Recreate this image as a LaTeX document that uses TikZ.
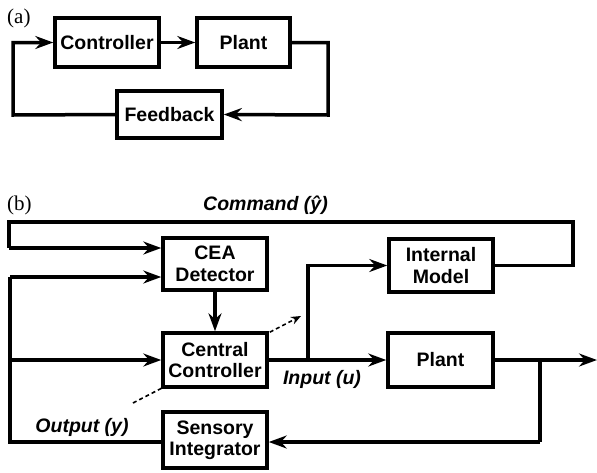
\documentclass[tikz,border=0pt]{standalone}
\usepackage{fontspec}
\setmainfont{Liberation Serif}
\setsansfont{Liberation Sans}
\usetikzlibrary{arrows.meta}
\tikzset{
  blk/.style={draw, line width=3.5pt, fill=white, inner sep=0pt, align=center,
    font=\sffamily\bfseries\fontsize{19.5}{21.5}\selectfont},
  wire/.style={line width=3.5pt, line join=miter},
  arr/.style={wire, -{Stealth[length=18pt, width=13pt, inset=6pt]}},
  lbl/.style={font=\sffamily\bfseries\itshape\fontsize{19.5}{21}\selectfont, inner sep=0pt},
  tag/.style={font=\rmfamily\fontsize{21}{23}\selectfont, inner sep=0pt, anchor=west},
  adj/.style={line width=1.6pt, dash pattern=on 4pt off 3pt,
    -{Stealth[length=10pt, width=8pt]}}
}
\begin{document}
\begin{tikzpicture}[x=1pt, y=-1pt]
\useasboundingbox (0,0) rectangle (597,472);

% ---------- (a) simple feedback loop ----------
\node[tag] (ta) at (7,18) {(a)};
\node[blk, minimum width=104pt, minimum height=49pt] (ctrl) at (107,42.5) {Controller};
\node[blk, minimum width=93pt, minimum height=49pt] (plantA) at (243.5,42.5) {Plant};
\node[blk, minimum width=105pt, minimum height=47pt] (fb) at (169.5,114.5) {Feedback};
\coordinate (ar) at (328,115);
\coordinate (al) at (13,115);

\draw[arr] (ctrl.east) -- (plantA.west);
\draw[arr] (plantA.east) -| (ar) -- (fb.east);
\draw[arr] (fb.west) -- (al) |- (ctrl.west);

% ---------- (b) adaptive control scheme ----------
\node[tag] (tb) at (7,205) {(b)};
\node[lbl] (cmd) at (265.5,205) {Command (ŷ)};

% adaptation path, drawn first so the controller box covers it
\coordinate (dA) at (133,403);
\coordinate (dB) at (301,316);
\draw[adj] (dA) -- (dB);

\node[blk, minimum width=104pt, minimum height=52pt] (cea) at (215,264) {CEA\\Detector};
\node[blk, minimum width=104pt, minimum height=53pt] (im) at (441,265.5) {Internal\\Model};
\node[blk, minimum width=104pt, minimum height=54pt] (cc) at (215,360) {Central\\Controller};
\node[blk, minimum width=105pt, minimum height=54pt] (plantB) at (440.5,360) {Plant};
\node[blk, minimum width=104pt, minimum height=56pt] (si) at (215,440) {Sensory\\Integrator};

\node[lbl] (inp) at (322,379) {Input (u)};
\node[lbl] (outp) at (82,427) {Output (y)};

% command loop from the internal model back to the detector
\coordinate (tr) at (573,222);
\coordinate (tl) at (9,222);
\coordinate (tlo) at (9,248);
\draw[wire] (im.east) -| (tr) -- (tl) -- (tlo);
\draw[arr] (tlo) -- (cea.west |- tlo);

% sensed output back to detector and controller
\coordinate (sl) at (10,442);
\coordinate (st) at (10,277);
\coordinate (sm) at (10,360);
\draw[wire] (si.west |- sl) -- (sl) -- (st);
\draw[arr] (st) -- (cea.west |- st);
\draw[arr] (sm) -- (cc.west);

\draw[arr] (cea.south) -- (cc.north);

% control input to plant and internal model
\coordinate (ub) at (308,360);
\draw[arr] (cc.east) -- (plantB.west);
\draw[arr] (ub) |- (im.west);

% plant output
\coordinate (yo) at (597,360);
\coordinate (yb) at (540,360);
\coordinate (yd) at (540,442);
\draw[arr] (plantB.east) -- (yo);
\draw[wire] (yb) -- (yd);
\draw[arr] (yd) -- (si.east |- yd);
\end{tikzpicture}
\end{document}
